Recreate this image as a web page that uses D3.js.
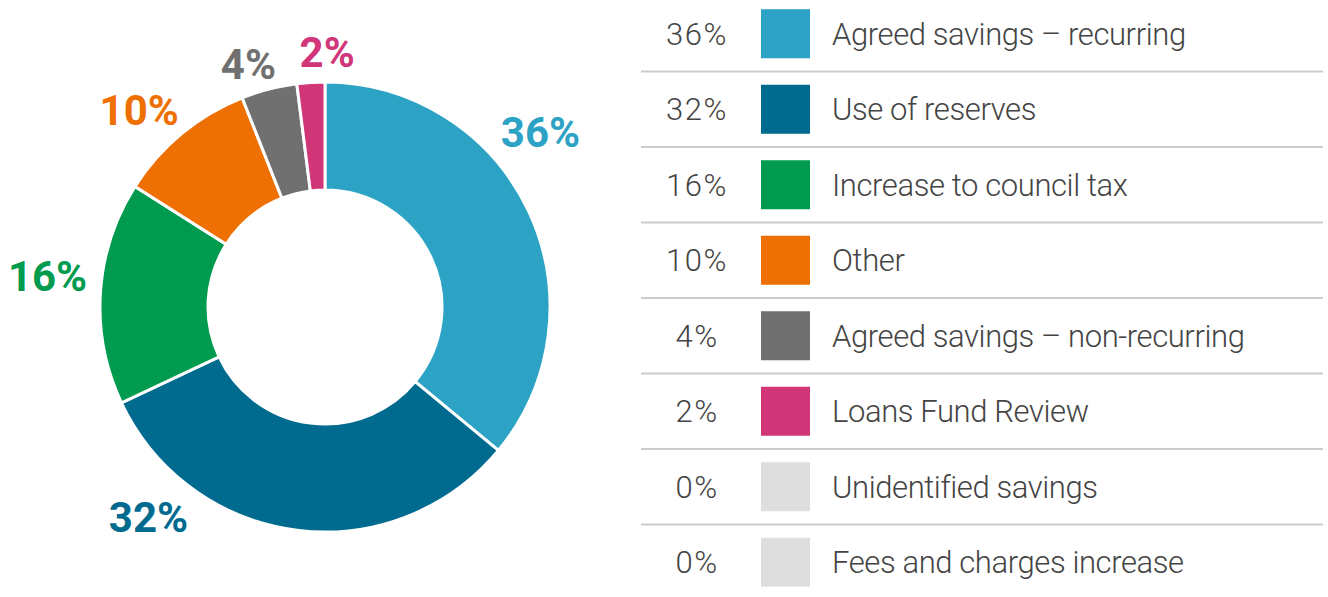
<!DOCTYPE html>
<html>
<head>
<meta charset="utf-8">
<script src="https://cdn.jsdelivr.net/npm/d3@7"></script>
<style>
  body { margin: 0; background: #fff; }
  svg { display: block; font-family: Roboto, "Liberation Sans", sans-serif; }
</style>
</head>
<body>
<svg id="chart" width="1328" height="597"></svg>
<script>
// data, in legend order (also the clockwise slice order from 12 o'clock)
const categories = [
  "Agreed savings \u2013 recurring",
  "Use of reserves",
  "Increase to council tax",
  "Other",
  "Agreed savings \u2013 non-recurring",
  "Loans Fund Review",
  "Unidentified savings",
  "Fees and charges increase"
];
const shares = [36, 32, 16, 10, 4, 2, 0, 0];
const colours = ["#2ca2c5", "#006b8f", "#009b4f", "#ee7003", "#707070", "#d03678", "#dedede", "#dedede"];

const width = 1328, height = 597;
const cx = 325, cy = 307, outerR = 225, innerR = 117;

const svg = d3.select('#chart');

const pie = d3.pie().sort(null).value(d => d.v);
const arcs = pie(shares.map((v, i) => ({ v, i })));

const arc = d3.arc().innerRadius(innerR).outerRadius(outerR);

const donut = svg.append('g').attr('transform', `translate(${cx},${cy})`);

donut.selectAll('path')
  .data(arcs.filter(a => a.data.v > 0))
  .enter()
  .append('path')
  .attr('d', arc)
  .attr('fill', d => colours[d.data.i])
  .attr('stroke', '#fff')
  .attr('stroke-width', 3)
  .attr('stroke-linejoin', 'miter');

// outside labels: centroid on a wider ring, then nudged by hand like the original
const labelArc = d3.arc().innerRadius(268).outerRadius(268);
const nudge = [[-27, -61], [-143, -56], [-10, -14], [-15, 10], [-10, 17], [19, 13]];

donut.selectAll('.lbl')
  .data(arcs.filter(a => a.data.v > 0))
  .enter()
  .append('text')
  .attr('class', 'lbl')
  .attr('x', d => labelArc.centroid(d)[0] + (nudge[d.data.i] || [0, 0])[0])
  .attr('y', d => labelArc.centroid(d)[1] + (nudge[d.data.i] || [0, 0])[1])
  .attr('text-anchor', 'middle')
  .attr('dy', '0.35em')
  .style('font-size', '42px')
  .style('font-weight', 700)
  .style('fill', d => colours[d.data.i])
  .text(d => d.data.v + '%');

// legend table
const y = d3.scaleBand()
  .domain(categories)
  .range([-4, 600])
  .paddingInner(0);

const legend = svg.append('g');

const rows = legend.selectAll('.row')
  .data(categories)
  .enter()
  .append('g')
  .attr('class', 'row')
  .attr('transform', d => `translate(0,${y(d)})`);

const rh = y.bandwidth();

rows.append('text')
  .attr('x', 697)
  .attr('y', rh / 2)
  .attr('dy', '0.35em')
  .attr('text-anchor', 'middle')
  .style('font-size', '31px')
  .style('font-weight', 300)
  .style('letter-spacing', '1.5px')
  .style('fill', '#444')
  .text((d, i) => shares[i] + '%');

rows.append('rect')
  .attr('x', 761)
  .attr('y', rh / 2 - 24.5)
  .attr('width', 49)
  .attr('height', 49)
  .attr('fill', (d, i) => colours[i]);

rows.append('text')
  .attr('x', 832)
  .attr('y', rh / 2)
  .attr('dy', '0.35em')
  .style('font-size', '31px')
  .style('font-weight', 300)
  .style('letter-spacing', '-0.4px')
  .style('fill', '#444')
  .text(d => d);

rows.filter((d, i) => i < categories.length - 1)
  .append('line')
  .attr('x1', 641)
  .attr('x2', 1323)
  .attr('y1', rh)
  .attr('y2', rh)
  .attr('stroke', '#cbcbcb')
  .attr('stroke-width', 2);
</script>
</body>
</html>
